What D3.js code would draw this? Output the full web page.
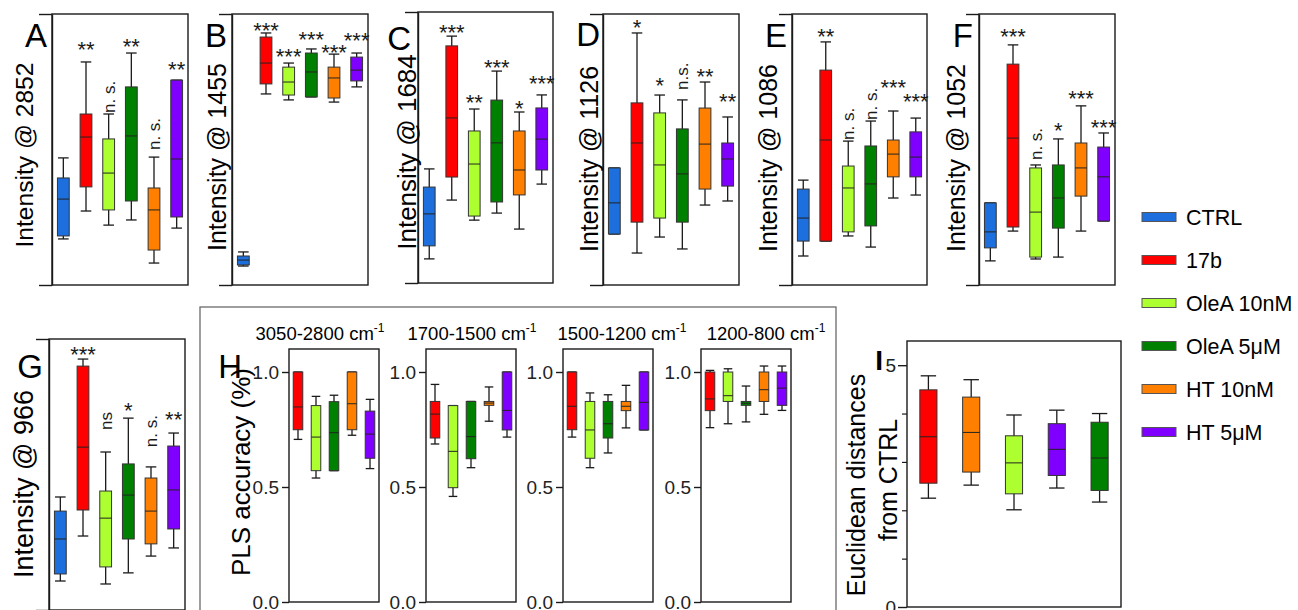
<!DOCTYPE html>
<html>
<head>
<meta charset="utf-8">
<script src="https://cdn.jsdelivr.net/npm/d3@7"></script>
<style>
  body { margin: 0; background: #fff; }
  svg { display: block; font-family: "Liberation Sans", Arial, sans-serif; }
</style>
</head>
<body>
<div id="chart"></div>
<script>
// groups and colours
const groups = ["CTRL", "17b", "OleA 10nM", "OleA 5μM", "HT 10nM", "HT 5μM"];
const colors = ["#1c6fdd", "#ff0000", "#adff2f", "#008000", "#ff8000", "#8000ff"];

// box stats per group: [low whisker, q1, median, q3, high whisker], relative intensity 0-100
const boxA = [[17.0, 18.1, 31.7, 39.5, 46.9], [27.3, 36.2, 54.6, 63.1, 82.3], [22.1, 27.7, 41.3, 53.9, 63.1], [24.0, 31.0, 55.0, 73.1, 85.6], [8.1, 12.9, 27.7, 35.8, 47.2], [21.0, 25.1, 46.5, 75.6, 75.6]];
const boxB = [[7.0, 7.4, 9.2, 10.7, 12.2], [70.5, 74.2, 81.9, 91.5, 93.0], [68.3, 70.1, 74.9, 80.4, 81.9], [69.4, 69.4, 78.6, 85.6, 87.1], [67.5, 69.0, 76.4, 80.4, 85.2], [73.1, 75.3, 79.3, 84.1, 85.6]];
const boxC = [[8.9, 13.7, 25.5, 35.4, 42.1], [30.6, 39.1, 60.9, 87.5, 91.1], [23.2, 24.7, 43.9, 56.1, 64.2], [25.8, 29.9, 51.7, 67.5, 78.2], [19.9, 32.5, 41.7, 56.1, 63.1], [36.5, 41.7, 53.1, 64.6, 69.4]];
const boxD = [[18.8, 18.8, 30.3, 43.2, 43.2], [11.8, 23.2, 52.4, 67.2, 93.0], [17.7, 24.7, 44.3, 63.5, 70.1], [13.3, 23.2, 41.0, 57.6, 68.3], [29.5, 35.4, 52.0, 65.3, 74.9], [31.0, 36.5, 46.5, 52.4, 62.0]];
const boxE = [[10.7, 16.2, 24.7, 35.4, 38.7], [16.2, 16.2, 53.5, 79.3, 89.7], [18.1, 19.6, 35.8, 43.9, 53.1], [14.0, 21.8, 37.3, 51.3, 60.5], [32.1, 39.9, 48.3, 53.5, 64.2], [33.2, 39.9, 47.2, 56.5, 61.6]];
const boxF = [[8.9, 13.7, 19.6, 30.3, 30.3], [19.9, 21.4, 54.2, 81.5, 88.6], [9.6, 10.3, 26.9, 43.2, 44.3], [10.3, 21.0, 32.1, 44.3, 53.9], [19.9, 32.8, 43.2, 52.4, 66.1], [23.6, 23.6, 39.9, 50.9, 56.1]];
const boxG = [[10.7, 13.3, 26.2, 36.5, 41.7], [27.3, 36.9, 60.1, 90.0, 92.6], [9.6, 15.9, 33.9, 43.9, 58.3], [13.7, 26.2, 42.4, 53.9, 70.8], [19.9, 24.4, 36.5, 48.7, 52.8], [22.9, 29.9, 44.3, 60.5, 65.3]];

// significance labels: [group index, text, level]
const sigA = [[1, "**", 88.6], [2, "n. s.", 63.5], [3, "**", 89.7], [4, "n. s.", 49.8], [5, "**", 81.2]];
const sigB = [[1, "***", 95.9], [2, "***", 86.0], [3, "***", 92.6], [4, "***", 87.5], [5, "***", 91.9]];
const sigC = [[1, "***", 94.1], [2, "**", 68.3], [3, "***", 81.5], [4, "*", 66.4], [5, "***", 75.3]];
const sigD = [[1, "*", 97.0], [2, "*", 75.6], [3, "n.s.", 72.0], [4, "**", 78.6], [5, "**", 69.4]];
const sigE = [[1, "**", 93.4], [2, "n. s.", 53.5], [3, "n. s.", 60.9], [4, "***", 74.9], [5, "***", 69.4]];
const sigF = [[1, "***", 93.4], [2, "n. s.", 46.1], [3, "*", 58.7], [4, "***", 70.5], [5, "***", 60.1]];
const sigG = [[1, "***", 96.3], [2, "ns", 66.4], [3, "*", 75.6], [4, "n. s.", 60.1], [5, "**", 72.0]];

// panel H: PLS accuracy per spectral range (groups without CTRL)
const hGroups = ["17b", "OleA 10nM", "OleA 5μM", "HT 10nM", "HT 5μM"];
const hRanges = ["3050-2800", "1700-1500", "1500-1200", "1200-800"];
const hBoxes = [
  [[0.707, 0.749, 0.848, 1.0, 1.0], [0.539, 0.571, 0.717, 0.854, 0.894], [0.571, 0.571, 0.736, 0.871, 0.899], [0.725, 0.749, 0.862, 1.0, 1.0], [0.580, 0.625, 0.730, 0.830, 0.881]],
  [[0.687, 0.713, 0.817, 0.872, 0.946], [0.459, 0.497, 0.655, 0.854, 0.854], [0.584, 0.623, 0.719, 0.872, 0.872], [0.786, 0.855, 0.865, 0.872, 0.935], [0.717, 0.748, 0.833, 1.0, 1.0]],
  [[0.717, 0.749, 0.851, 1.0, 1.0], [0.584, 0.625, 0.748, 0.872, 0.909], [0.648, 0.713, 0.775, 0.872, 0.901], [0.757, 0.832, 0.851, 0.872, 0.942], [0.748, 0.748, 0.868, 1.0, 1.0]],
  [[0.758, 0.832, 0.883, 1.0, 1.007], [0.775, 0.872, 0.897, 1.0, 1.014], [0.783, 0.855, 0.864, 0.872, 0.939], [0.816, 0.872, 0.923, 1.0, 1.026], [0.833, 0.855, 0.930, 1.0, 1.026]]
];

// panel I: euclidean distances from CTRL
const iGroups = ["17b", "HT 10nM", "OleA 10nM", "HT 5μM", "OleA 5μM"];
const iBoxes = [[2.25, 2.56, 3.52, 4.49, 4.78], [2.52, 2.79, 3.61, 4.34, 4.70], [2.01, 2.34, 2.98, 3.54, 3.97], [2.46, 2.72, 3.26, 3.79, 4.07], [2.17, 2.41, 3.08, 3.82, 4.00]];

const width = 1298, height = 610;
const color = d3.scaleOrdinal(groups, colors);
const ink = "#1a1a1a";

const svg = d3.create("svg")
  .attr("width", width)
  .attr("height", height)
  .attr("viewBox", [0, 0, width, height]);

// draws one box per group
function drawBoxes(g, x, y, names, stats) {
  const bw = x.bandwidth();
  const cap = bw * 0.9;
  const box = g.selectAll("g.box")
    .data(stats.map((s, i) => ({ name: names[i], s })))
    .join("g")
    .attr("class", "box")
    .attr("transform", d => `translate(${x(d.name)},0)`);
  box.append("line")
    .attr("x1", bw / 2).attr("x2", bw / 2)
    .attr("y1", d => y(d.s[0])).attr("y2", d => y(d.s[4]))
    .attr("stroke", ink).attr("stroke-width", 1.3);
  box.selectAll("line.cap")
    .data(d => [d.s[0], d.s[4]])
    .join("line")
    .attr("class", "cap")
    .attr("x1", (bw - cap) / 2).attr("x2", (bw + cap) / 2)
    .attr("y1", v => y(v)).attr("y2", v => y(v))
    .attr("stroke", ink).attr("stroke-width", 1.3);
  box.append("rect")
    .attr("y", d => y(d.s[3]))
    .attr("width", bw)
    .attr("height", d => Math.max(1, y(d.s[1]) - y(d.s[3])))
    .attr("fill", d => color(d.name))
    .attr("stroke", "#333").attr("stroke-width", 1);
  box.append("line")
    .attr("x1", 0).attr("x2", bw)
    .attr("y1", d => y(d.s[2])).attr("y2", d => y(d.s[2]))
    .attr("stroke", "#222").attr("stroke-width", 1);
}

// top-row style intensity panels
const intensityPanels = [
  { id: "A", x0: 52, x1: 188, y0: 14, y1: 285, lab: "Intensity @ 2852", labX: 33, labY: 155, labFs: 24.6, letX: 47, letY: 47, box: boxA, sig: sigA },
  { id: "B", x0: 232, x1: 368, y0: 14, y1: 285, lab: "Intensity @ 1455", labX: 226, labY: 157, labFs: 25, letX: 227, letY: 47, box: boxB, sig: sigB },
  { id: "C", x0: 418, x1: 553, y0: 12, y1: 283, lab: "Intensity @ 1684", labX: 416, labY: 152, labFs: 26, letX: 411, letY: 50, box: boxC, sig: sigC },
  { id: "D", x0: 603, x1: 739, y0: 14, y1: 285, lab: "Intensity @ 1126", labX: 598, labY: 159, labFs: 25, letX: 600, letY: 46, box: boxD, sig: sigD },
  { id: "E", x0: 792, x1: 927, y0: 14, y1: 285, lab: "Intensity @ 1086", labX: 777, labY: 158, labFs: 25, letX: 787, letY: 47, box: boxE, sig: sigE },
  { id: "F", x0: 979, x1: 1115, y0: 14, y1: 285, lab: "Intensity @ 1052", labX: 965, labY: 158, labFs: 25, letX: 973, letY: 47, box: boxF, sig: sigF },
  { id: "G", x0: 49, x1: 185, y0: 339, y1: 610, lab: "Intensity @ 966", labX: 33, labY: 484, labFs: 27, letX: 43, letY: 378, box: boxG, sig: sigG }
];

intensityPanels.forEach(p => {
  const g = svg.append("g");
  const x = d3.scaleBand().domain(groups).range([p.x0, p.x1]).paddingInner(0.48).paddingOuter(0.24);
  const y = d3.scaleLinear().domain([0, 100]).range([p.y1, p.y0]);

  g.append("rect")
    .attr("x", p.x0).attr("y", p.y0)
    .attr("width", p.x1 - p.x0).attr("height", p.y1 - p.y0)
    .attr("fill", "none").attr("stroke", ink).attr("stroke-width", 1.4);
  g.append("g")
    .attr("transform", `translate(${p.x0},0)`)
    .call(d3.axisLeft(y).tickValues([0, 100]).tickSize(13).tickSizeOuter(0).tickFormat(""))
    .call(a => a.selectAll("line, path").attr("stroke", ink).attr("stroke-width", 1.4));

  drawBoxes(g, x, y, groups, p.box);

  p.sig.forEach(([i, txt, v]) => {
    const cx = x(groups[i]) + x.bandwidth() / 2;
    if (txt.includes("*")) {
      g.append("text")
        .attr("x", cx).attr("y", y(v) + 12.5)
        .attr("text-anchor", "middle")
        .attr("font-size", 22)
        .attr("fill", ink)
        .text(txt);
    } else {
      g.append("text")
        .attr("transform", `translate(${cx + 6},${y(v)}) rotate(-90)`)
        .attr("font-size", 17)
        .attr("fill", ink)
        .text(txt);
    }
  });

  g.append("text")
    .attr("transform", `translate(${p.labX},${p.labY}) rotate(-90)`)
    .attr("text-anchor", "middle")
    .attr("font-size", p.labFs)
    .text(p.lab);
  g.append("text")
    .attr("x", p.letX).attr("y", p.letY)
    .attr("text-anchor", "end")
    .attr("font-size", 33)
    .text(p.id);
});

// panel H
svg.append("rect")
  .attr("x", 200).attr("y", 307).attr("width", 636).attr("height", 330)
  .attr("fill", "none").attr("stroke", "#6a6a6a").attr("stroke-width", 1.3);

const hLeft = [289, 426, 563, 701];
const hTitleX = [320, 472, 622, 766];
const hY = d3.scaleLinear().domain([0, 1.1]).range([602, 349]);

hRanges.forEach((r, k) => {
  const g = svg.append("g");
  const x0 = hLeft[k], x1 = x0 + 90;
  const x = d3.scaleBand().domain(hGroups).range([x0, x1]).paddingInner(0.47).paddingOuter(0.235);
  g.append("rect")
    .attr("x", x0).attr("y", hY(1.1))
    .attr("width", x1 - x0).attr("height", hY(0) - hY(1.1))
    .attr("fill", "none").attr("stroke", ink).attr("stroke-width", 1.4);
  g.append("g")
    .attr("transform", `translate(${x0},0)`)
    .call(d3.axisLeft(hY).tickValues([0, 0.5, 1.0]).tickSize(7).tickSizeOuter(0).tickPadding(3).tickFormat(d3.format(".1f")))
    .call(a => a.select(".domain").remove())
    .call(a => a.selectAll("line").attr("stroke", ink).attr("stroke-width", 1.4))
    .call(a => a.selectAll("text").attr("font-size", 19).attr("fill", "#222").attr("font-family", null));
  drawBoxes(g, x, hY, hGroups, hBoxes[k]);

  const t = g.append("text")
    .attr("x", hTitleX[k]).attr("y", 340)
    .attr("text-anchor", "middle")
    .attr("font-size", 18.5);
  t.append("tspan").text(`${r} cm`);
  t.append("tspan").attr("font-size", 12).attr("dy", -8).text("-1");
});

svg.append("text")
  .attr("x", 242).attr("y", 378)
  .attr("text-anchor", "end")
  .attr("font-size", 33)
  .text("H");
svg.append("text")
  .attr("transform", "translate(250,472) rotate(-90)")
  .attr("text-anchor", "middle")
  .attr("font-size", 26)
  .text("PLS accuracy (%)");

// panel I
{
  const g = svg.append("g");
  const x0 = 907, x1 = 1121;
  const x = d3.scaleBand().domain(iGroups).range([x0, x1]).paddingInner(0.6).paddingOuter(0.3);
  const y = d3.scaleLinear().domain([0, 5.5]).range([607, 341]);
  g.append("rect")
    .attr("x", x0).attr("y", y(5.5))
    .attr("width", x1 - x0).attr("height", y(0) - y(5.5))
    .attr("fill", "none").attr("stroke", ink).attr("stroke-width", 1.4);
  g.append("g")
    .attr("transform", `translate(${x0},0)`)
    .call(d3.axisLeft(y).tickValues([1, 2, 3, 4]).tickSize(5).tickSizeOuter(0).tickFormat(""))
    .call(a => a.select(".domain").remove())
    .call(a => a.selectAll("line").attr("stroke", ink).attr("stroke-width", 1.2));
  g.append("g")
    .attr("transform", `translate(${x0},0)`)
    .call(d3.axisLeft(y).tickValues([0, 5]).tickSize(9).tickSizeOuter(0).tickPadding(2).tickFormat(d3.format("d")))
    .call(a => a.select(".domain").remove())
    .call(a => a.selectAll("line").attr("stroke", ink).attr("stroke-width", 1.4))
    .call(a => a.selectAll("text").attr("font-size", 19).attr("fill", "#222").attr("font-family", null));
  drawBoxes(g, x, y, iGroups, iBoxes);

  g.append("text")
    .attr("x", 883).attr("y", 370)
    .attr("text-anchor", "end")
    .attr("font-size", 28)
    .attr("font-weight", "bold")
    .text("I");
  g.append("text")
    .attr("transform", "translate(865,485) rotate(-90)")
    .attr("text-anchor", "middle")
    .attr("font-size", 25)
    .text("Euclidean distances");
  g.append("text")
    .attr("transform", "translate(897,480) rotate(-90)")
    .attr("text-anchor", "middle")
    .attr("font-size", 25)
    .text("from CTRL");
}

// legend
const legend = svg.append("g").attr("transform", "translate(1142,217)");
const item = legend.selectAll("g")
  .data(groups)
  .join("g")
  .attr("transform", (d, i) => `translate(0,${i * 43})`);
item.append("rect")
  .attr("x", 0).attr("y", -4.5)
  .attr("width", 34).attr("height", 9)
  .attr("fill", d => color(d))
  .attr("stroke", "#555").attr("stroke-width", 1);
item.append("text")
  .attr("x", 44).attr("y", 0)
  .attr("dy", "0.36em")
  .attr("font-size", 21.5)
  .text(d => d);

d3.select("#chart").node().append(svg.node());
</script>
</body>
</html>
